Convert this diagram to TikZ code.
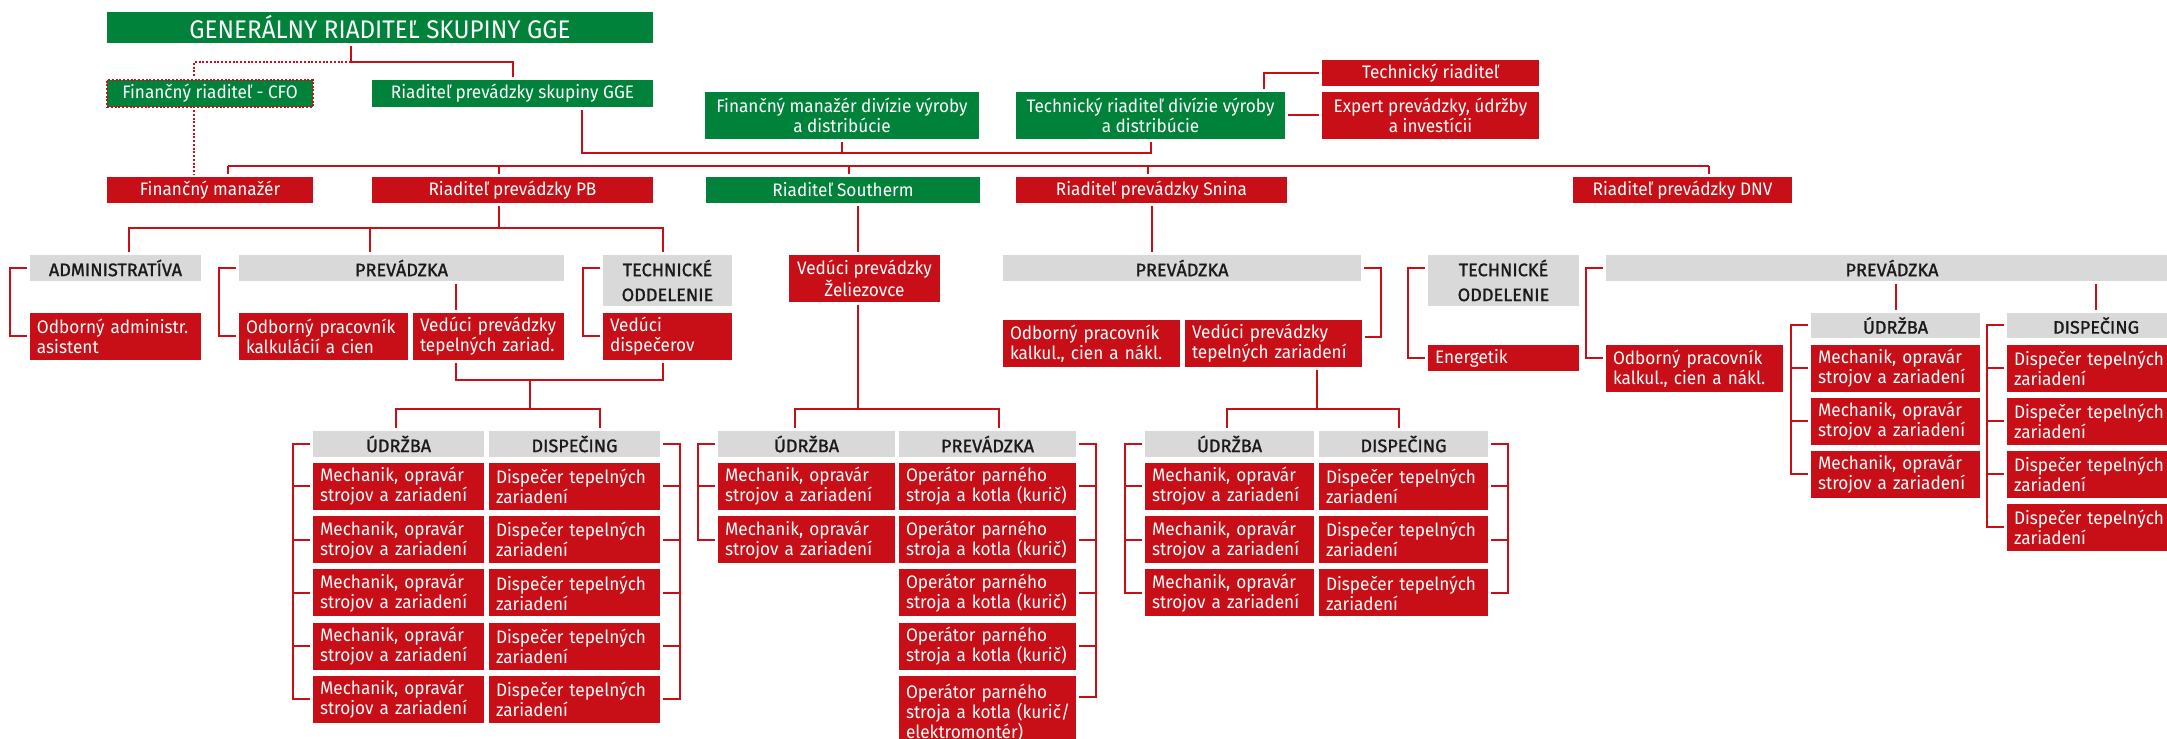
\documentclass[tikz,border=0pt]{standalone}
\usepackage{fontspec}
\setmainfont{Fira Sans}[FakeStretch=0.95]
\newfontfamily\hdrfont{Fira Sans}[FakeBold=1.2]

\definecolor{ggered}{RGB}{200,14,22}
\definecolor{ggegreen}{RGB}{0,130,58}
\definecolor{ggegray}{RGB}{217,217,217}
\definecolor{ggetext}{RGB}{26,26,26}

\tikzset{
    box/.style={inner xsep=1.4mm, inner ysep=0.4mm, outer sep=0.6mm, font=\fontsize{10.3}{11.4}\selectfont},
    redbox/.style={box, fill=ggered, text=white},
    greenbox/.style={box, fill=ggegreen, text=white},
    graybox/.style={box, fill=ggegray, text=ggetext, font=\hdrfont\fontsize{10.3}{11.4}\selectfont},
    twoline/.style={font=\hdrfont\fontsize{10.3}{14.2}\selectfont},
    wl/.style={minimum width=#1*0.2mm, text width=#1*0.2mm, inner xsep=0pt, align=left,
        execute at begin node={\leftskip=1.4mm\relax}},
    wc/.style={minimum width=#1*0.2mm, align=center},
    ht/.style={minimum height=#1*0.2mm},
    wire/.style={draw=ggered, line width=0.4mm},
}

\begin{document}
\begin{tikzpicture}[x=0.2mm, y=-0.2mm]
\fill[white] (0,0) rectangle (2167,739);
\useasboundingbox (0,0) rectangle (2167,739);

%% 第一层
\node[greenbox, wc=546, ht=31, font=\fontsize{14.5}{16}\selectfont] (gen) at (380,27.5) {GENERÁLNY RIADITEĽ SKUPINY GGE};
\node[greenbox, wc=206, ht=27, draw=ggered, densely dotted, line width=0.4mm] (cfo) at (210,93.5) {Finančný riaditeľ - CFO};
\node[greenbox, wc=281, ht=27] (prevgge) at (512.5,93.5) {Riaditeľ prevádzky skupiny GGE};
\node[greenbox, wc=274, ht=47] (findiv) at (842,115.5) {Finančný manažér divízie výroby\\a distribúcie};
\node[greenbox, wc=269, ht=47] (techdiv) at (1150.5,115.5) {Technický riaditeľ divízie výroby\\a distribúcie};
\node[redbox, wc=217, ht=26] (techriad) at (1430.5,73) {Technický riaditeľ};
\node[redbox, wc=217, ht=47] (expert) at (1430.5,115.5) {Expert prevádzky, údržby\\a investícii};

\coordinate (g0) at ([xshift=-5.8mm]gen.south);
\draw[wire] (g0) -- ++(0,16) coordinate (g1) -| (prevgge.north);
\coordinate (c0) at ([xshift=-3.2mm]cfo.north);
\coordinate (c1) at ([xshift=-3.2mm]cfo.south);
\draw[wire, densely dotted] (g1) -| (c0);
\coordinate (r0) at ([xshift=13.9mm]prevgge.south);
\draw[wire] (r0) -- (r0 |- 0,153) -| (techdiv.south);
\draw[wire] (findiv.south) -- (findiv.south |- 0,153);
\draw[wire] ([xshift=22.7mm]techdiv.north) |- (techriad.west);
\draw[wire] (techdiv.east) -- (expert.west);

%% 第二层
\node[redbox, wc=206, ht=26] (finman) at (210,190) {Finančný manažér};
\node[redbox, wc=281, ht=26] (pb) at (512.5,190) {Riaditeľ prevádzky PB};
\node[greenbox, wc=274, ht=26] (southerm) at (843,190) {Riaditeľ Southerm};
\node[redbox, wc=271, ht=26] (snina) at (1151.5,190) {Riaditeľ prevádzky Snina};
\node[redbox, wc=219, ht=26] (dnv) at (1682.5,190) {Riaditeľ prevádzky DNV};

\draw[wire, densely dotted] (c1) -- (c1 |- finman.north);
\draw[wire] (228,166) -- (1709,166);
\foreach \x/\n in {228/finman, 499/pb, 849/southerm, 1148/snina, 1709/dnv}
{
    \draw[wire] (\x,166) -- (\x,166 |- \n.north);
}

%% 区域 PB
\node[graybox, wc=171, ht=26] (pbadmin) at (115.5,268) {ADMINISTRATÍVA};
\node[graybox, wc=325, ht=26] (pbprev) at (401.5,268) {PREVÁDZKA};
\node[graybox, twoline, wc=129, ht=51] (pbtech) at (667.5,280.5) {TECHNICKÉ\\ODDELENIE};
\node[redbox, wl=171, ht=47] (pbadminas) at (115.5,336.5) {Odborný administr.\\asistent};
\node[redbox, wl=169, ht=47] (pbkalk) at (323.5,336.5) {Odborný pracovník\\kalkulácií a cien};
\node[redbox, wl=151, ht=47] (pbved) at (488.5,336.5) {Vedúci prevádzky\\tepelných zariad.};
\node[redbox, wl=129, ht=47] (pbdisp) at (667.5,336.5) {Vedúci\\dispečerov};

\draw[wire] ([xshift=-2.7mm]pb.south) -- ++(0,22);
\draw[wire] (pbadmin.north -| 129,0) |- (663,228) -- (pbtech.north -| 663,0);
\draw[wire] (370,228) -- (pbprev.north -| 370,0);
\draw[wire] (pbadmin.west) -- ++(-17,0) |- (pbadminas.west);
\draw[wire] (pbprev.west) -- ++(-17,0) |- (pbkalk.west);
\draw[wire] (pbadmin.west -| pbtech.west) -- ++(-17,0) |- (pbdisp.west);
\draw[wire] (pbprev.south -| 456,0) -- (pbved.north -| 456,0);
\draw[wire] (pbved.south -| 456,0) -- (456,380) -- (663,380) -- (pbdisp.south -| 663,0);
\draw[wire] (530,380) -- (530,409);

\node[graybox, wc=171, ht=26] (pbu) at (398.5,444) {ÚDRŽBA};
\node[graybox, wc=171, ht=26] (pbd) at (574.5,444) {DISPEČING};
\foreach \i in {1,...,5}
{
    \node[redbox, wl=171, ht=47] (pbm\i) at (398.5,{433.25+53.25*\i}) {Mechanik, opravár\\strojov a zariadení};
    \node[redbox, wl=171, ht=47] (pbs\i) at (574.5,{433.25+53.25*\i}) {Dispečer tepelných\\zariadení};
}
\draw[wire] (pbu.north -| 396,0) |- (600,409) -- (pbd.north -| 600,0);
\draw[wire] (pbu.west) -- ++(-17,0) |- (pbm5.west);
\draw[wire] (pbd.east) -- ++(17,0) |- (pbs5.east);
\foreach \i in {1,...,4}
{
    \draw[wire] (pbm\i.west) -- ++(-17,0);
    \draw[wire] (pbs\i.east) -- ++(17,0);
}

%% 区域 Southerm
\node[redbox, wc=151, ht=47] (szel) at (864.5,278.5) {Vedúci prevádzky\\Želiezovce};
\draw[wire] (southerm.south -| 858,0) -- (szel.north -| 858,0);
\draw[wire] (szel.south -| 858,0) -- (858,409);

\node[graybox, wc=177, ht=26] (szu) at (806.5,444) {ÚDRŽBA};
\node[graybox, wc=177, ht=26] (szp) at (987.5,444) {PREVÁDZKA};
\foreach \i in {1,2}
{
    \node[redbox, wl=177, ht=47] (szm\i) at (806.5,{433.25+53.25*\i}) {Mechanik, opravár\\strojov a zariadení};
}
\foreach \i in {1,...,4}
{
    \node[redbox, wl=177, ht=47] (szo\i) at (987.5,{433.25+53.25*\i}) {Operátor parného\\stroja a kotla (kurič)};
}
\node[redbox, wl=177, ht=74] (szo5) at (987.5,713) {Operátor parného\\stroja a kotla (kurič/\\elektromontér)};
\draw[wire] (szu.north -| 795,0) |- (999,409) -- (szp.north -| 999,0);
\draw[wire] (szu.west) -- ++(-17,0) |- (szm2.west);
\draw[wire] (szm1.west) -- ++(-17,0);
\draw[wire] (szp.east) -- ++(17,0) |- ([yshift=3.2mm]szo5.east);
\foreach \i in {1,...,4}
{
    \draw[wire] (szo\i.east) -- ++(17,0);
}

%% 区域 Snina
\node[graybox, wc=358, ht=26] (snprev) at (1182,268) {PREVÁDZKA};
\node[redbox, wl=177, ht=47] (snkalk) at (1091.5,343.5) {Odborný pracovník\\kalkul., cien a nákl.};
\node[redbox, wl=177, ht=47] (snved) at (1273.5,343.5) {Vedúci prevádzky\\tepelných zariadení};
\draw[wire] (snina.south) -- (snprev.north -| snina.south);
\draw[wire] (snprev.east) -- ++(17,0) |- ([yshift=1.3mm]snved.east);
\draw[wire] (snved.south -| 1317,0) -- (1317,409);

\node[graybox, wc=169, ht=26] (snu) at (1229.5,444) {ÚDRŽBA};
\node[graybox, wc=169, ht=26] (snd) at (1403.5,444) {DISPEČING};
\foreach \i in {1,2,3}
{
    \node[redbox, wl=169, ht=47] (snm\i) at (1229.5,{433.25+53.25*\i}) {Mechanik, opravár\\strojov a zariadení};
    \node[redbox, wl=169, ht=47] (sns\i) at (1403.5,{433.25+53.25*\i}) {Dispečer tepelných\\zariadení};
}
\draw[wire] (snu.north -| 1227,0) |- (1399,409) -- (snd.north -| 1399,0);
\draw[wire] (snu.west) -- ++(-17,0) |- (snm3.west);
\draw[wire] (snd.east) -- ++(17,0) |- (sns3.east);
\foreach \i in {1,2}
{
    \draw[wire] (snm\i.west) -- ++(-17,0);
    \draw[wire] (sns\i.east) -- ++(17,0);
}

%% 区域 DNV
\node[graybox, twoline, wc=151, ht=51] (dnvtech) at (1503.5,280.5) {TECHNICKÉ\\ODDELENIE};
\node[redbox, wl=151, ht=26] (dnvenerg) at (1503.5,358) {Energetik};
\node[graybox, wc=572, ht=26] (dnvprev) at (1892,268) {PREVÁDZKA};
\node[redbox, wl=177, ht=47] (dnvkalk) at (1694.5,368.5) {Odborný pracovník\\kalkul., cien a nákl.};
\node[graybox, wc=169, ht=25] (dnvu) at (1895.5,325.5) {ÚDRŽBA};
\node[graybox, wc=178, ht=25] (dnvd) at (2096,325.5) {DISPEČING};
\foreach \i in {1,2,3}
{
    \node[redbox, wl=169, ht=47] (dnvm\i) at (1895.5,{315.5+53*\i}) {Mechanik, opravár\\strojov a zariadení};
}
\foreach \i in {1,...,4}
{
    \node[redbox, wl=178, ht=47] (dnvs\i) at (2096,{315.5+53*\i}) {Dispečer tepelných\\zariadení};
}
\draw[wire] (dnvprev.west -| dnvtech.west) -- ++(-17,0) |- (dnvenerg.west);
\draw[wire] (dnvprev.west) -- ++(-17,0) |- (dnvenerg.west -| dnvkalk.west);
\draw[wire] (dnvprev.south -| dnvu.north) -- (dnvu.north);
\draw[wire] (dnvprev.south -| dnvd.north) -- (dnvd.north);
\draw[wire] (dnvu.west) -- ++(-17,0) |- (dnvm3.west);
\draw[wire] (dnvd.west) -- ++(-17,0) |- (dnvs4.west);
\foreach \i in {1,2}
{
    \draw[wire] (dnvm\i.west) -- ++(-17,0);
}
\foreach \i in {1,2,3}
{
    \draw[wire] (dnvs\i.west) -- ++(-17,0);
}

\end{tikzpicture}
\end{document}
